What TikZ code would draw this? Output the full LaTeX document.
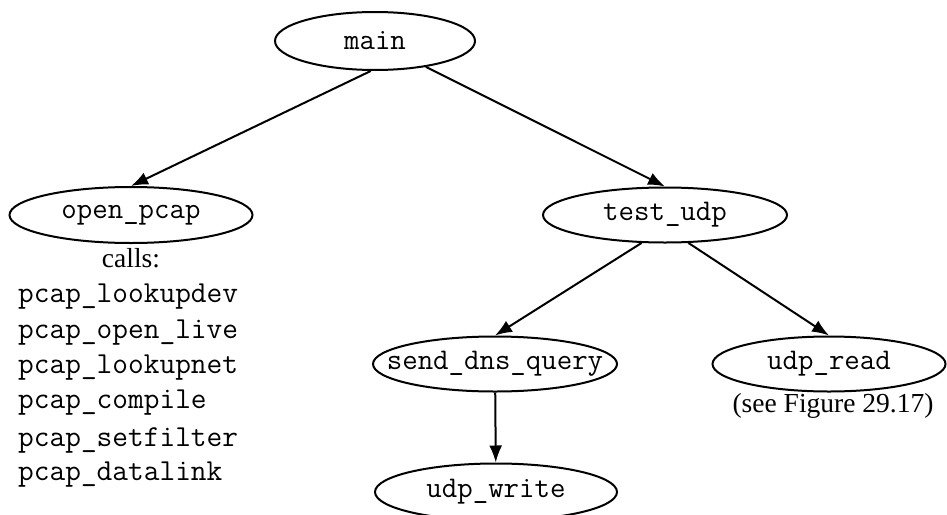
\documentclass[tikz,border=0pt]{standalone}
\usepackage{fontspec}
\setmainfont{Liberation Serif}
\usetikzlibrary{shapes.geometric,arrows.meta}
\newcommand{\zw}[1]{\makebox[0pt]{#1}}
\begin{document}
\begin{tikzpicture}[x=1pt,y=-1pt,
  fn/.style={draw,ellipse,line width=2pt,inner sep=0pt,font=\fontsize{30}{32}\selectfont\ttfamily},
  lbl/.style={inner sep=0pt,font=\fontsize{27.5}{30}\selectfont},
  lst/.style={inner sep=0pt,anchor=west,font=\fontsize{30.5}{32}\selectfont\ttfamily},
  call/.style={line width=2pt,-{Latex[length=17pt,width=13pt]}}]
\useasboundingbox (0,0) rectangle (947,514);
\node[fn,minimum width=200pt,minimum height=58pt] (main) at (375,41) {\zw{main}};
\node[fn,minimum width=243pt,minimum height=56pt] (open) at (131,215) {\zw{open\_pcap}};
\node[fn,minimum width=244pt,minimum height=55pt] (test) at (665,215) {\zw{test\_udp}};
\node[fn,minimum width=244pt,minimum height=55pt] (send) at (495,364) {\zw{send\_dns\_query}};
\node[fn,minimum width=233pt,minimum height=55pt] (read) at (829,364) {\zw{udp\_read}};
\node[fn,minimum width=242pt,minimum height=57pt] (write) at (496,492) {\zw{udp\_write}};
\node[lbl] (calls) at (131,258) {calls:};
\node[lbl] (see) at (833,406) {(see Figure 29.17)};
\node[lst] (l1) at (18,297) {pcap\_lookupdev};
\node[lst] (l2) at (18,333) {pcap\_open\_live};
\node[lst] (l3) at (18,368) {pcap\_lookupnet};
\node[lst] (l4) at (18,403) {pcap\_compile};
\node[lst] (l5) at (18,440) {pcap\_setfilter};
\node[lst] (l6) at (18,475) {pcap\_datalink};
\draw[call] (main.262) -- (open.north);
\draw[call] (main.333) -- (test.north);
\draw[call] (test.230) -- (send.north);
\draw[call] (test.310) -- (read.north);
\draw[call] (send) -- (write);
\end{tikzpicture}
\end{document}
